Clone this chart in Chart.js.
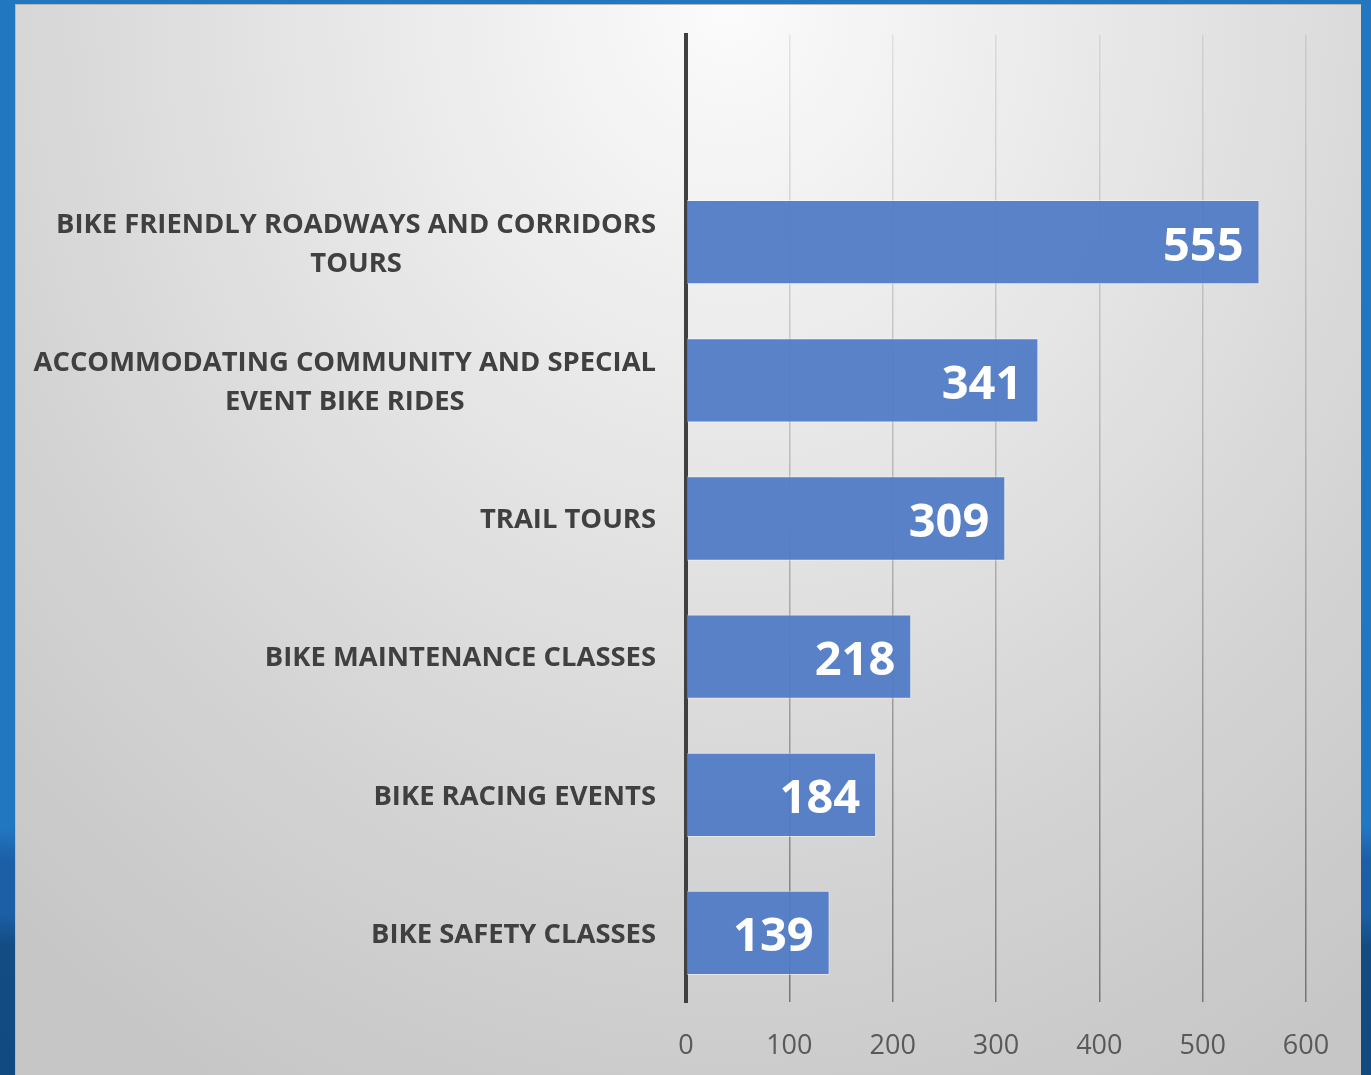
<!DOCTYPE html>
<html>
<head>
<meta charset="utf-8">
<script src="https://cdn.jsdelivr.net/npm/chart.js@4.4.1/dist/chart.umd.min.js"></script>
<style>
  html, body { margin: 0; padding: 0; }
  body {
    width: 1371px; height: 1075px; overflow: hidden; position: relative;
    background: linear-gradient(to bottom, #2277c1 0%, #2277c1 77%, #1c5fa6 80%, #1c5fa6 85%, #124c82 88%, #114a80 100%);
  }
  #panel {
    position: absolute; left: 15px; top: 4px; width: 1346px; height: 1071px;
    box-sizing: border-box; border-left: 1px solid #b8b8b8; border-top: 1px solid #b8b8b8;
    background: radial-gradient(ellipse 80% 115% at 53% 0%, #fbfbfb 0%, #e8e8e8 35%, #d4d4d4 70%, #c6c6c6 100%);
  }
  #wrap { position: absolute; left: 0; top: 0; width: 1371px; height: 1075px; }
</style>
</head>
<body>
<div id="panel"></div>
<div id="wrap"><canvas id="myChart" width="1371" height="1075"></canvas></div>
<script>
// categories, top slot is empty in the original chart
let categories = [
  [''],
  ['BIKE FRIENDLY ROADWAYS AND CORRIDORS', 'TOURS'],
  ['ACCOMMODATING COMMUNITY AND SPECIAL', 'EVENT BIKE RIDES'],
  ['TRAIL TOURS'],
  ['BIKE MAINTENANCE CLASSES'],
  ['BIKE RACING EVENTS'],
  ['BIKE SAFETY CLASSES']
]
let values = [null, 555, 341, 309, 218, 184, 139]
let xTicks = [0, 100, 200, 300, 400, 500, 600]

// category labels: first line right aligned, next lines centred under it
const catLabels = {
  id: 'catLabels',
  afterDraw(chart) {
    let ctx = chart.ctx
    let yScale = chart.scales.y
    let right = chart.chartArea.left - 30
    ctx.save()
    ctx.font = 'bold 27.4px "Open Sans"'
    ctx.fillStyle = '#404040'
    ctx.textBaseline = 'middle'
    categories.forEach((lines, i) => {
      let yc = yScale.getPixelForValue(i) + 2
      let lh = 39
      let y0 = yc - (lines.length - 1) * lh / 2
      let w0 = ctx.measureText(lines[0]).width
      lines.forEach((line, k) => {
        if (k == 0) {
          ctx.textAlign = 'right'
          ctx.fillText(line, right, y0)
        } else {
          ctx.textAlign = 'center'
          ctx.fillText(line, right - w0 / 2, y0 + k * lh)
        }
      })
    })
    ctx.restore()
  }
}

// value labels inside the bar end
const valueLabels = {
  id: 'valueLabels',
  afterDatasetsDraw(chart) {
    let ctx = chart.ctx
    let meta = chart.getDatasetMeta(0)
    ctx.save()
    ctx.font = 'bold 47px "Open Sans"'
    ctx.fillStyle = '#ffffff'
    ctx.textAlign = 'right'
    ctx.textBaseline = 'middle'
    meta.data.forEach((bar, i) => {
      if (values[i] == null) return
      ctx.fillText(String(values[i]), bar.x - 16, bar.y + 5)
    })
    ctx.restore()
  }
}

let gridGrad = null
function gridColor(c) {
  let chart = c.chart
  let area = chart.chartArea
  if (!area) return 'rgba(0,0,0,0.2)'
  if (!gridGrad) {
    gridGrad = chart.ctx.createLinearGradient(0, area.top, 0, area.bottom)
    gridGrad.addColorStop(0, 'rgba(0,0,0,0.08)')
    gridGrad.addColorStop(0.5, 'rgba(0,0,0,0.2)')
    gridGrad.addColorStop(1, 'rgba(0,0,0,0.42)')
  }
  return gridGrad
}

let ctx = document.getElementById('myChart').getContext('2d')
let myChart = new Chart(ctx, {
  type: 'bar',
  data: {
    labels: categories.map(d => d.join(' ')),
    datasets: [{
      data: values,
      backgroundColor: 'rgba(78,122,198,0.93)',
      borderColor: 'rgba(255,255,255,0.45)',
      borderWidth: 1,
      categoryPercentage: 1,
      barPercentage: 0.61
    }]
  },
  options: {
    indexAxis: 'y',
    responsive: false,
    animation: false,
    layout: { padding: { top: 35, right: 65, left: 0, bottom: 0 } },
    plugins: { legend: { display: false }, tooltip: { enabled: false } },
    scales: {
      x: {
        min: 0, max: 600,
        afterBuildTicks: s => { s.ticks = xTicks.map(v => ({ value: v })) },
        afterFit: s => { s.height = 73 },
        grid: { color: gridColor, lineWidth: 1.5, drawTicks: false },
        border: { display: false },
        ticks: { color: '#595959', font: { family: 'Open Sans', size: 27 }, padding: 28 }
      },
      y: {
        afterFit: s => { s.width = 686 },
        grid: { display: false },
        border: { display: true, color: '#404040', width: 4 },
        ticks: { display: false }
      }
    }
  },
  plugins: [catLabels, valueLabels]
})
</script>
</body>
</html>
